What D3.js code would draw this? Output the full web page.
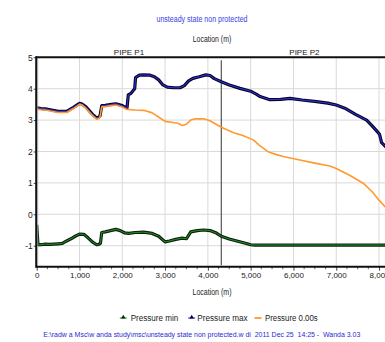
<!DOCTYPE html>
<html><head><meta charset="utf-8">
<script src="https://cdn.jsdelivr.net/npm/d3@7"></script>
<style>
html,body{margin:0;padding:0;background:#fff;overflow:hidden;}
svg{display:block;}
svg text{font-family:"Liberation Sans",Arial,sans-serif;white-space:pre;}
</style></head>
<body><div id="chart"></div>
<script>
// ---- data ----
const titleText = "unsteady state non protected";
const footerText = "E:\\radw a Msc\\w anda study\\msc\\unsteady state non protected.w di  2011 Dec 25  14:25 -  Wanda 3.03";
const xTicks = [0,1000,2000,3000,4000,5000,6000,7000,8000];
const yTicks = [-1,0,1,2,3,4,5];
const pipes = [{name:"PIPE P1", from:0, to:4313},{name:"PIPE P2", from:4313, to:8200}];
const seriesNames = ["Pressure min","Pressure max","Pressure 0.00s"];

const p0X = [0,100,200,350,500,700,850,1000,1050,1150,1300,1400,1450,1480,1520,1600,1750,1850,2000,2100,2300,2500,2700,2900,3000,3150,3300,3400,3500,3600,3700,3900,4050,4313,4600,4800,5060,5200,5410,5600,5760,6150,6500,6850,7000,7300,7630,7850,8000,8140,8200];
const p0Y = [3.35,3.33,3.32,3.28,3.24,3.24,3.36,3.5,3.49,3.38,3.15,3.03,3.05,3.1,3.42,3.43,3.46,3.48,3.42,3.34,3.32,3.31,3.23,3.05,2.96,2.93,2.9,2.83,2.87,3.0,3.04,3.04,2.98,2.77,2.6,2.52,2.37,2.2,1.99,1.9,1.84,1.73,1.63,1.54,1.46,1.25,0.99,0.7,0.45,0.24,0.12];

const maxX = [0,100,200,350,500,700,850,1000,1050,1150,1300,1400,1450,1480,1520,1600,1750,1850,2000,2110,2140,2200,2260,2290,2310,2400,2500,2650,2750,2850,2950,3050,3200,3350,3450,3550,3650,3800,3950,4050,4150,4313,4500,4750,5000,5140,5220,5450,5700,5920,6200,6540,6800,7000,7200,7450,7710,7850,7980,8010,8060,8120,8200];
const maxY = [3.39,3.37,3.36,3.32,3.28,3.28,3.4,3.53,3.52,3.42,3.19,3.07,3.09,3.14,3.46,3.47,3.5,3.52,3.46,3.38,3.8,3.85,3.95,4.0,4.35,4.43,4.44,4.43,4.38,4.28,4.12,4.05,4.03,4.03,4.1,4.25,4.33,4.38,4.44,4.42,4.32,4.22,4.12,4.01,3.92,3.82,3.75,3.65,3.66,3.69,3.64,3.59,3.54,3.48,3.38,3.18,3.0,2.8,2.6,2.55,2.28,2.2,2.1];

const minX = [0,30,100,200,300,400,500,600,700,800,900,1000,1100,1200,1300,1400,1450,1490,1520,1600,1700,1850,1950,2050,2150,2300,2500,2700,2850,3000,3100,3250,3400,3500,3600,3750,3900,4050,4200,4313,4500,4700,4900,5000,5100,6000,7000,8200];
const minY = [-0.34,-0.97,-0.97,-0.95,-0.96,-0.95,-0.94,-0.93,-0.85,-0.78,-0.7,-0.63,-0.64,-0.75,-0.88,-0.97,-0.96,-0.92,-0.58,-0.56,-0.53,-0.48,-0.52,-0.59,-0.61,-0.58,-0.57,-0.61,-0.7,-0.88,-0.85,-0.8,-0.76,-0.78,-0.56,-0.52,-0.5,-0.52,-0.6,-0.7,-0.79,-0.86,-0.93,-0.97,-0.98,-0.98,-0.98,-0.98];

// ---- layout ----
const W = 385, H = 342;
const L = 36.7, R = 387.6, T = 57.3, B = 266.7;
const svg = d3.select("#chart").append("svg").attr("width",W).attr("height",H);
const x = d3.scaleLinear().domain([0,8200]).range([L,R]);
const y = d3.scaleLinear().domain([-1.67,5]).range([B,T]);

svg.append("defs").append("clipPath").attr("id","clip")
  .append("rect").attr("x",L).attr("y",T).attr("width",R-L).attr("height",B-T);

// grid
const g = svg.append("g");
g.selectAll(".vg").data(xTicks.filter(d=>d>0)).join("line")
  .attr("x1",d=>x(d)).attr("x2",d=>x(d)).attr("y1",T).attr("y2",B)
  .attr("stroke","#d9d9d9").attr("stroke-width",1);
g.selectAll(".hg").data(yTicks.filter(d=>d<5)).join("line")
  .attr("x1",L).attr("x2",R).attr("y1",d=>y(d)).attr("y2",d=>y(d))
  .attr("stroke","#d9d9d9").attr("stroke-width",1);

// pipe boundary
svg.append("line").attr("x1",x(4313)).attr("x2",x(4313)).attr("y1",T+3).attr("y2",B-1.5)
  .attr("stroke","#333").attr("stroke-width",1);

// series
const plot = svg.append("g").attr("clip-path","url(#clip)");
function drawSeries(xs, ys, dark, color, darkW, colW){
  const pts = xs.map((d,i)=>[d, ys[i]]);
  const line = d3.line().x(d=>x(d[0])).y(d=>y(d[1]));
  if (dark) plot.append("path").attr("d",line(pts)).attr("fill","none")
    .attr("stroke",dark).attr("stroke-width",darkW).attr("stroke-linejoin","round");
  plot.append("path").attr("d",line(pts)).attr("fill","none")
    .attr("stroke",color).attr("stroke-width",colW).attr("stroke-linejoin","round");
}
drawSeries(minX, minY, "#0b200b", "#2e9e2e", 3.2, 0.9);
drawSeries(maxX, maxY, "#05052e", "#3a3af0", 3.2, 0.9);
drawSeries(p0X, p0Y, null, "#ff9a2e", 0, 1.6);

// axes
const xa = svg.append("g").attr("transform",`translate(0,${B})`)
  .call(d3.axisBottom(x).tickValues(xTicks).tickSize(4).tickSizeOuter(0).tickFormat(d3.format(",")));
xa.select(".domain").remove();
xa.selectAll("line").attr("stroke","#444");
xa.selectAll("text").attr("font-size","8px").attr("fill","#222").attr("dy","0.72em").attr("y",6);
const minor = d3.range(0,8201,250).filter(d=>d%1000!==0);
svg.selectAll(".mt").data(minor).join("line")
  .attr("x1",d=>x(d)).attr("x2",d=>x(d)).attr("y1",B).attr("y2",B+2.5).attr("stroke","#666");

const ya = svg.append("g").attr("transform",`translate(${L},0)`)
  .call(d3.axisLeft(y).tickValues(yTicks).tickSize(3).tickSizeOuter(0).tickFormat(d=>String(d)));
ya.select(".domain").remove();
ya.selectAll("line").attr("stroke","#444");
ya.selectAll("text").attr("font-size","8.5px").attr("fill","#222").attr("x",-4);

// frame
svg.append("line").attr("x1",L-0.5).attr("x2",L-0.5).attr("y1",T-1).attr("y2",B+1).attr("stroke","#111").attr("stroke-width",2);
svg.append("line").attr("x1",L+1).attr("x2",L+1).attr("y1",T).attr("y2",B).attr("stroke","#999").attr("stroke-width",0.8);
svg.append("line").attr("x1",L-1).attr("x2",W).attr("y1",T).attr("y2",T).attr("stroke","#111").attr("stroke-width",2);
svg.append("line").attr("x1",L-1).attr("x2",W).attr("y1",B).attr("y2",B).attr("stroke","#111").attr("stroke-width",2);

// pipe labels
svg.selectAll(".pl").data(pipes).join("text")
  .attr("x",d=>(x(d.from)+x(d.to))/2).attr("y",55).attr("text-anchor","middle")
  .attr("font-size","8px").attr("fill","#222").text(d=>d.name);

// titles
svg.append("text").attr("x",202).attr("y",22).attr("text-anchor","middle")
  .attr("font-size","8.5px").attr("fill","#3c3ce6").attr("textLength",91).attr("lengthAdjust","spacingAndGlyphs").text(titleText);
svg.append("text").attr("x",212).attr("y",42).attr("text-anchor","middle")
  .attr("font-size","8.5px").attr("fill","#222").attr("textLength",38.5).attr("lengthAdjust","spacingAndGlyphs").text("Location (m)");
svg.append("text").attr("x",212).attr("y",294.5).attr("text-anchor","middle")
  .attr("font-size","8.5px").attr("fill","#222").attr("textLength",39).attr("lengthAdjust","spacingAndGlyphs").text("Location (m)");

// legend
const leg = [
  {name:seriesNames[0], mx:123.3, tx:130.7, tw:47.6, line:"#2e9e2e", mk:"#0b200b"},
  {name:seriesNames[1], mx:191.7, tx:197.3, tw:50.4, line:"#3a3af0", mk:"#05052e"},
  {name:seriesNames[2], mx:258, tx:265, tw:52.7, line:"#ff9a2e", mk:null}
];
const lg = svg.append("g");
leg.forEach(d=>{
  lg.append("line").attr("x1",d.mx-3.5).attr("x2",d.mx+3.5).attr("y1",318).attr("y2",318)
    .attr("stroke",d.line).attr("stroke-width",d.mk?1.2:1.8);
  if (d.mk) lg.append("path").attr("d",d3.symbol(d3.symbolTriangle,8)()).attr("transform",`translate(${d.mx},317.3)`).attr("fill",d.mk);
  lg.append("text").attr("x",d.tx).attr("y",321).attr("font-size","8.5px").attr("fill","#222")
    .attr("textLength",d.tw).attr("lengthAdjust","spacingAndGlyphs").text(d.name);
});

// footer
svg.append("text").attr("x",43.3).attr("y",337).attr("font-size","7px").attr("fill","#2a2ad0")
  .attr("textLength",317).attr("lengthAdjust","spacingAndGlyphs").text(footerText);
</script></body></html>
